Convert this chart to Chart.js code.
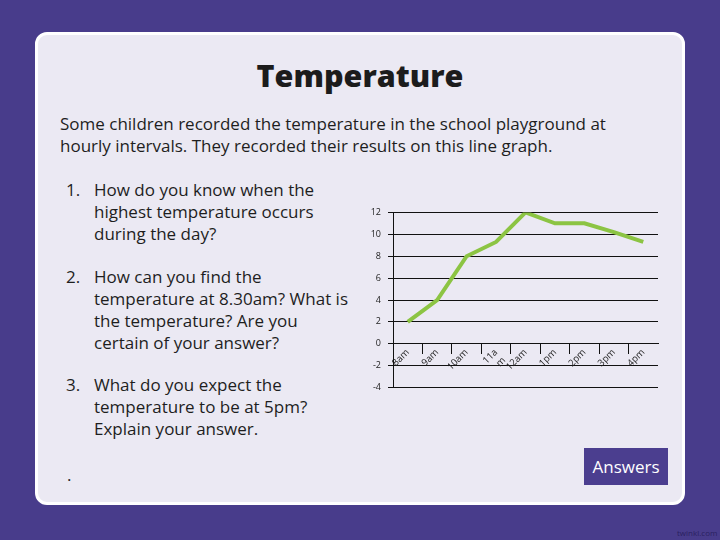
<!DOCTYPE html>
<html>
<head>
<meta charset="utf-8">
<script src="https://cdn.jsdelivr.net/npm/chart.js@4"></script>
<style>
  html, body { margin: 0; padding: 0; }
  body { width: 720px; height: 540px; background: #483c8b; position: relative; overflow: hidden; font-family: "Open Sans", sans-serif; color: #1e1e1e; }
  .card { position: absolute; left: 35px; top: 32px; width: 650px; height: 473px; box-sizing: border-box; border: 3px solid #fff; border-radius: 12px; background: #ebe9f3; }
  .title { position: absolute; left: 0; width: 720px; top: 55px; line-height: 40px; text-align: center; font-size: 30.5px; font-weight: 800; color: #1c1c1c; }
  .txt { position: absolute; font-size: 17px; line-height: 22px; white-space: nowrap; }
  .num { position: absolute; font-size: 17px; line-height: 22px; }
  #chart-box { position: absolute; left: 350px; top: 200px; width: 320px; height: 200px; }
  .btn { position: absolute; left: 584px; top: 448px; width: 84px; height: 37px; background: #4b3e8f; color: #fff; font-size: 17px; line-height: 37px; text-align: center; }
  .foot { position: absolute; left: 677px; top: 527px; font-size: 8px; color: #2a2160; }
</style>
</head>
<body>
<div class="card"></div>
<div class="title">Temperature</div>
<div class="txt" style="left:60px; top:113px;">Some children recorded the temperature in the school playground at<br>hourly intervals. They recorded their results on this line graph.</div>

<div class="num" style="left:66px; top:179px;">1.</div>
<div class="txt" style="left:94px; top:179px;">How do you know when the<br>highest temperature occurs<br>during the day?</div>

<div class="num" style="left:66px; top:266px;">2.</div>
<div class="txt" style="left:94px; top:266px;">How can you find the<br>temperature at 8.30am? What is<br>the temperature? Are you<br>certain of your answer?</div>

<div class="num" style="left:66px; top:374px;">3.</div>
<div class="txt" style="left:94px; top:374px;">What do you expect the<br>temperature to be at 5pm?<br>Explain your answer.</div>

<div class="num" style="left:67px; top:464px;">.</div>

<div id="chart-box"><canvas id="tempChart"></canvas></div>

<div class="btn">Answers</div>
<div class="foot">twinkl.com</div>

<script>
// Hours along the bottom (the 11am label is split over two lines in the picture)
const hours = ['8am', '9am', '10am', ['11a', 'm'], '12am', '1pm', '2pm', '3pm', '4pm'];
// Temperature readings, degrees
const temperatures = [2, 4, 8, 9.3, 12, 11, 11, 10.2, 9.3];
// Y axis range and step
const yMin = -4;
const yMax = 12;
const yStep = 2;

const ctx = document.getElementById('tempChart').getContext('2d');
new Chart(ctx, {
    type: 'line',
    data: {
        labels: hours,
        datasets: [{
            data: temperatures,
            borderColor: '#8cc443',
            borderWidth: 4,
            pointRadius: 0,
            tension: 0,
            fill: false
        }]
    },
    options: {
        responsive: true,
        maintainAspectRatio: false,
        animation: false,
        layout: {
            padding: { top: 5, right: 12, bottom: 3, left: 0 }
        },
        plugins: {
            legend: { display: false },
            tooltip: { enabled: false }
        },
        scales: {
            x: {
                position: { y: 0 },
                offset: true,
                afterFit: (axis) => { axis.height = 0; },
                grid: {
                    offset: true,
                    drawOnChartArea: false,
                    drawTicks: true,
                    tickLength: 10,
                    color: (c) => (c.index >= 1 && c.index <= 8) ? '#111' : 'rgba(0,0,0,0)'
                },
                border: { display: true, color: '#111' },
                ticks: {
                    autoSkip: false,
                    minRotation: 45,
                    maxRotation: 45,
                    padding: -7,
                    color: '#222',
                    font: { family: 'Open Sans', size: 9.5 }
                }
            },
            y: {
                min: yMin,
                max: yMax,
                afterFit: (axis) => { axis.width = 43; },
                ticks: {
                    stepSize: yStep,
                    padding: 7,
                    color: '#222',
                    font: { family: 'Open Sans', size: 9 }
                },
                grid: {
                    color: '#111',
                    lineWidth: 1,
                    tickLength: 5
                },
                border: { display: true, color: '#111' }
            }
        }
    }
});
</script>
</body>
</html>
